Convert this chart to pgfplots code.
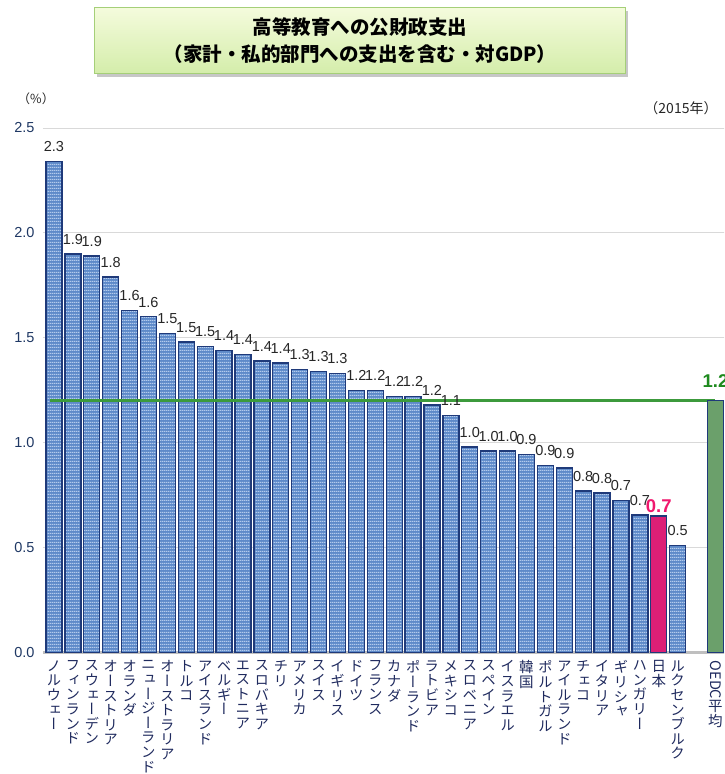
\documentclass[border=0pt]{standalone}
\usepackage{fontspec}
\setmainfont{Liberation Sans}
\newfontfamily\cjk{Noto Sans CJK JP}
\newfontfamily\cjkv{Noto Sans CJK JP}[RawFeature={+vert}]
\usepackage{graphicx}
\usepackage{pgfplots}
\pgfplotsset{compat=1.18}
\usepackage{pgfplotstable}
\usetikzlibrary{patterns.meta}

\definecolor{navy}{HTML}{1F3A7A}
\definecolor{labnavy}{HTML}{1F2A5E}
\definecolor{ticknavy}{HTML}{1F3864}
\definecolor{barbase}{HTML}{5E8AC9}
\definecolor{barlight}{HTML}{B3CBEC}
\definecolor{jppink}{HTML}{DC1F76}
\definecolor{jptext}{HTML}{F0186E}
\definecolor{oecdbar}{HTML}{6BA06B}
\definecolor{oecdline}{HTML}{3C9A3C}
\definecolor{oecdtext}{HTML}{1E8A1E}
\definecolor{gridgray}{HTML}{D9D9D9}
\definecolor{axisgray}{HTML}{BFBFBF}

\tikzdeclarepattern{
  name=hstripes,
  type=uncolored,
  bounding box={(0pt,0pt) and (2pt,3pt)},
  tile size={(2pt,3pt)},
  code={\fill (0pt,0pt) rectangle (2pt,1.5pt);}
}

\protected\def\vstack#1{\vstackA#1\vstackEnd}
\def\vstackA#1#2\vstackEnd{#1\ifx\relax#2\relax\else\\\vstackA#2\vstackEnd\fi}

\pgfplotstableread{
x y lab
0 2.34 2.3
1 1.90 1.9
2 1.89 1.9
3 1.79 1.8
4 1.63 1.6
5 1.60 1.6
6 1.52 1.5
7 1.48 1.5
8 1.46 1.5
9 1.44 1.4
10 1.42 1.4
11 1.39 1.4
12 1.38 1.4
13 1.35 1.3
14 1.34 1.3
15 1.33 1.3
16 1.25 1.2
17 1.25 1.2
18 1.22 1.2
19 1.22 1.2
20 1.18 1.2
21 1.13 1.1
22 0.98 1.0
23 0.96 1.0
24 0.96 1.0
25 0.945 0.9
26 0.89 0.9
27 0.88 0.9
28 0.77 0.8
29 0.76 0.8
30 0.725 0.7
31 0.655 0.7
33 0.51 0.5
}\bluedata

\begin{document}
\begin{tikzpicture}[x=1pt,y=1pt]
\useasboundingbox (0,0) rectangle (724,774);
\clip (0,0) rectangle (724,774);

% title box
\fill[black!22] (97,697) rectangle (628,763);
\shade[top color={rgb,255:red,244;green,251;blue,220}, bottom color={rgb,255:red,212;green,237;blue,170}] (94,700) rectangle (625,766);
\draw[color={rgb,255:red,165;green,207;blue,120}, line width=1pt] (94,700) rectangle (625,766);
\node[align=center, font=\cjk\bfseries\fontsize{19.5}{27}\selectfont, text=black] at (360,733) {高等教育への公財政支出\\（家計・私的部門への支出を含む・対GDP）};

\node[font=\cjk\fontsize{12.5}{14}\selectfont, text=black!85] at (36,675) {（\%）};
\node[font=\cjk\fontsize{14}{16}\selectfont, text=black!85] at (681,666) {（2015年）};

\begin{axis}[
  at={(43pt,121.5pt)}, anchor=south west,
  scale only axis,
  width=700.8pt, height=524.5pt,
  xmin=-0.58, xmax=36.5,
  ymin=0, ymax=2.5,
  axis x line=bottom,
  axis y line=left,
  x axis line style={-, draw=axisgray, line width=3pt},
  y axis line style={draw=none},
  major tick length=0pt,
  ytick={0,0.5,1,1.5,2,2.5},
  ymajorgrids,
  grid style={draw=gridgray, line width=0.9pt},
  yticklabel style={font=\fontsize{14.5}{16}\selectfont, text=ticknavy, xshift=-5pt},
  /pgf/number format/.cd, fixed, fixed zerofill, precision=1, assume math mode=true,
  /pgfplots/.cd,
  xtick={0,1,2,3,4,5,6,7,8,9,10,11,12,13,14,15,16,17,18,19,20,21,22,23,24,25,26,27,28,29,30,31,32,33,35},
  xticklabels={\vstack{ノルウェー},\vstack{フィンランド},\vstack{スウェーデン},\vstack{オーストリア},\vstack{オランダ},\vstack{ニュージーランド},\vstack{オーストラリア},\vstack{トルコ},\vstack{アイスランド},\vstack{ベルギー},\vstack{エストニア},\vstack{スロバキア},\vstack{チリ},\vstack{アメリカ},\vstack{スイス},\vstack{イギリス},\vstack{ドイツ},\vstack{フランス},\vstack{カナダ},\vstack{ポーランド},\vstack{ラトビア},\vstack{メキシコ},\vstack{スロベニア},\vstack{スペイン},\vstack{イスラエル},\vstack{韓国},\vstack{ポルトガル},\vstack{アイルランド},\vstack{チェコ},\vstack{イタリア},\vstack{ギリシャ},\vstack{ハンガリー},\vstack{日本},\vstack{ルクセンブルク},{\rotatebox{-90}{OEDC}\\平\\均}},
  xticklabel style={font=\cjkv\fontsize{14.5}{14.6}\selectfont, text=labnavy, anchor=north, align=center, inner sep=0pt, yshift=-8pt},
  clip=false,
]
\addplot[ybar, bar width=16pt, draw=navy, line width=1.3pt,
  preaction={fill=barbase}, pattern=hstripes, pattern color=barlight,
  point meta=explicit symbolic,
  nodes near coords,
  nodes near coords style={font=\fontsize{14.5}{16}\selectfont, text=black!85, anchor=south, inner sep=2pt, yshift=7pt}]
  table[x=x, y=y, meta=lab] {\bluedata};

\addplot[sharp plot, color=oecdline, line width=3pt, mark=none, forget plot]
  coordinates {(-0.2,1.2) (35,1.2)};

\addplot[ybar, bar width=16pt, draw=navy, line width=1.3pt, fill=jppink,
  point meta=explicit symbolic,
  nodes near coords,
  nodes near coords style={font=\bfseries\fontsize{18.5}{20}\selectfont, text=jptext, anchor=south, inner sep=1pt, yshift=2pt}]
  coordinates {(32,0.65) [0.7]};

\addplot[ybar, bar width=16pt, draw=navy, line width=1.3pt, fill=oecdbar,
  point meta=explicit symbolic,
  nodes near coords,
  nodes near coords style={font=\bfseries\fontsize{18.5}{20}\selectfont, text=oecdtext, anchor=south, inner sep=1pt, yshift=12pt}]
  coordinates {(35,1.20) [1.2]};
\end{axis}
\end{tikzpicture}
\end{document}
